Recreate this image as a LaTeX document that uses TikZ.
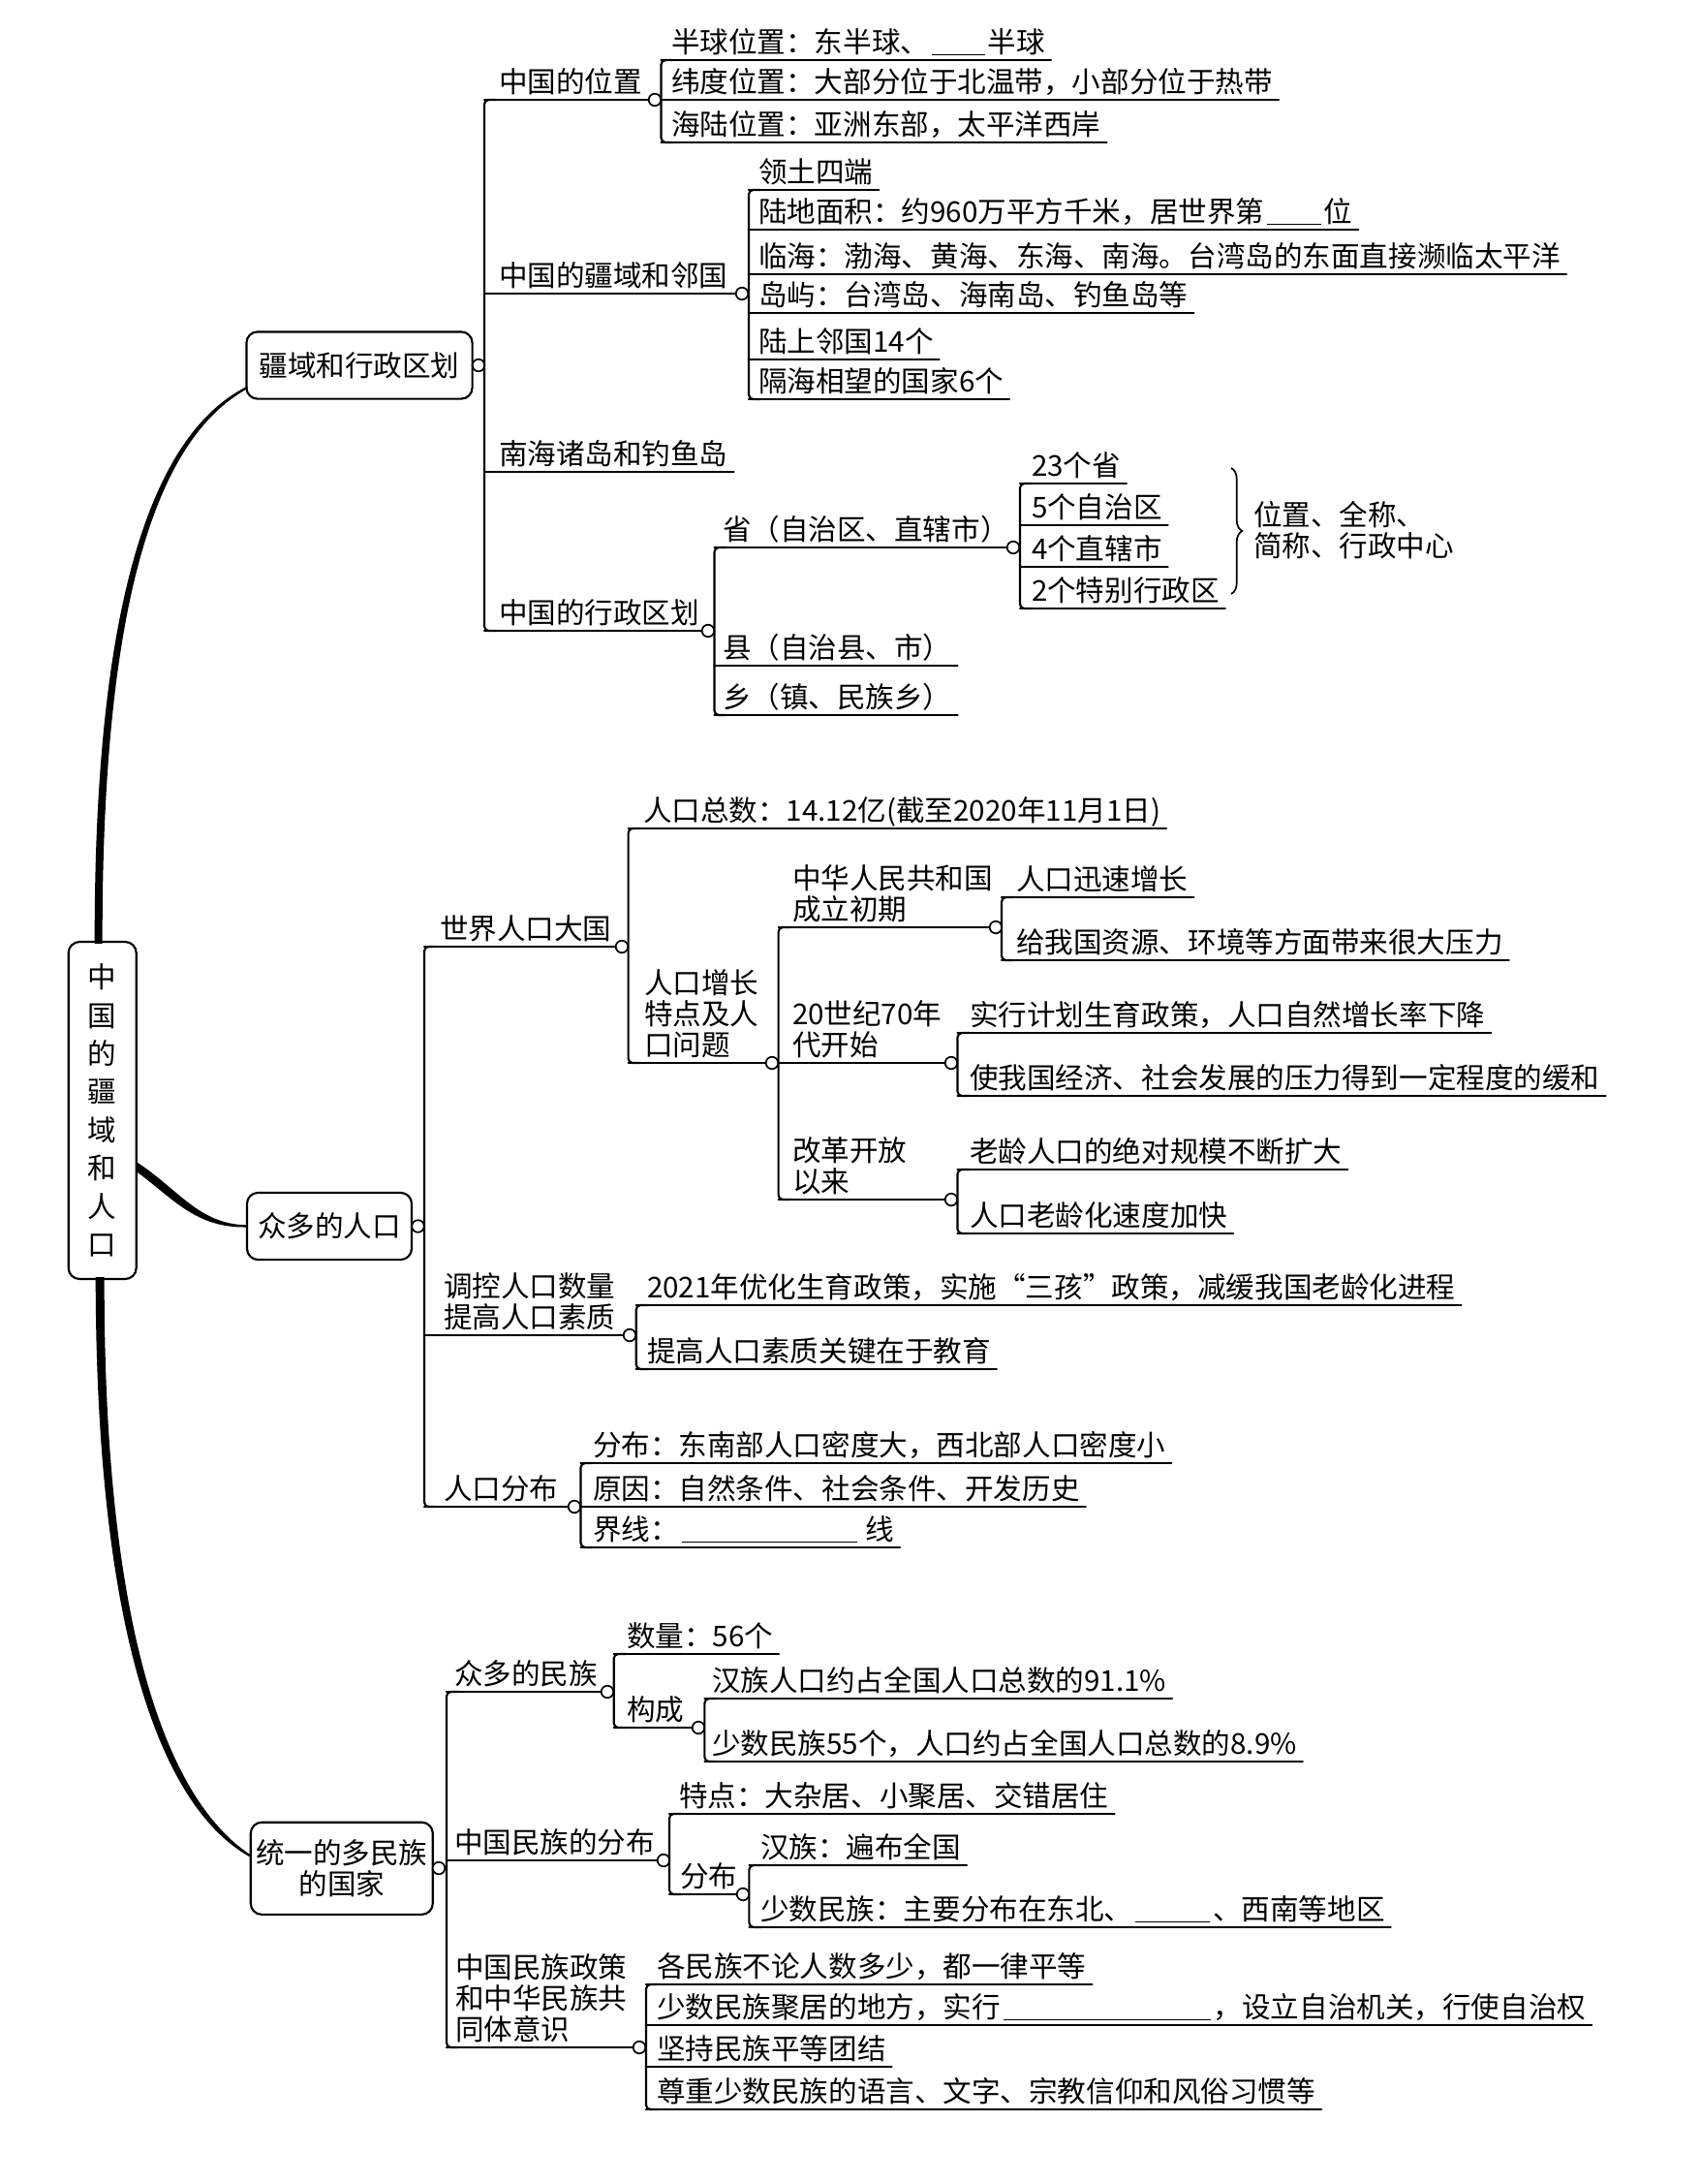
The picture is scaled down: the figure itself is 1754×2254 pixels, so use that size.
\documentclass[tikz,border=0pt]{standalone}
\usepackage{fontspec}
\setmainfont{Noto Sans CJK SC}
\usetikzlibrary{calc,decorations.pathreplacing}
\newcommand\mmblank[1]{\kern1pt\rule[-1.2pt]{#1}{0.6pt}\kern1pt}
\newcommand\mmleaf[5]{%
  \node[txt] (#1) at (#3,#4-8) {#5};
  \draw[ln] (#2,#4) -- ($(#1.south east)+(6,8)$);}
\newcommand\mmpar[6]{%
  \node[txt] (#1) at (#3,#4-8) {#6};
  \node[dot] (#1c) at (#5,#4) {};
  \draw[ln] (#2,#4) -- (#1c.west);}
\newcommand\mmbar[3]{%
  \draw[ln,rounded corners=1.6pt] (#1+12,#2) -- (#1,#2) -- (#1,#3) -- (#1+12,#3);}
\begin{document}
\begin{tikzpicture}[x=0.35pt,y=-0.35pt,
  font=\fontsize{10.35}{11.2}\selectfont,
  ln/.style={line width=0.75pt,line cap=round},
  txt/.style={anchor=south west,inner sep=0pt,outer sep=0pt,text depth=0pt,align=left},
  box/.style={draw,fill=white,line width=0.75pt,rounded corners=4pt,inner sep=0pt,align=center},
  dot/.style={circle,draw,line width=0.6pt,fill=white,inner sep=0pt,minimum size=4.4pt}]
\useasboundingbox[fill=white] (0,0) rectangle (1754,2254);

% root and main boxes
\node[box,minimum width=24.5pt,minimum height=121.8pt,font=\fontsize{10.35}{13.8}\selectfont] (R) at (105.7,1146) {中\\国\\的\\疆\\域\\和\\人\\口};
\node[box,minimum width=81.6pt,minimum height=24.2pt] (A) at (371,377) {疆域和行政区划};
\node[box,minimum width=59.5pt,minimum height=24.2pt] (B) at (340,1265.5) {众多的人口};
\node[box,minimum width=65.8pt,minimum height=33.3pt,font=\fontsize{10.35}{11.2}\selectfont] (C) at (352.8,1928.3) {统一的多民族\\的国家};

% tapered connectors
\fill ($(R.north)+(-8,3)$) .. controls (97,618) and (158,447) .. ($(A.south west)+(2,-14)$)
  -- ($(A.south west)+(2,-11.5)$) .. controls (161,453) and (105,622) .. ($(R.north)+(0,3)$) -- cycle;
\fill ($(R.east)+(-1,53)$) .. controls (185,1228) and (205,1263) .. ($(B.west)+(0,-1.2)$)
  -- ($(B.west)+(0,1)$) .. controls (202,1267) and (180,1238) .. ($(R.east)+(-1,63)$) -- cycle;
\fill ($(R.south)+(-7,-3)$) .. controls (99,1685) and (166,1866) .. ($(C.west)+(1,-11.5)$)
  -- ($(C.west)+(1,-14)$) .. controls (171,1857) and (107,1678) .. ($(R.south)+(2,-3)$) -- cycle;

% ===== A =====
\node[dot] (Ac) at (494,377) {};
\mmbar{500}{103}{651}
\mmpar{a1}{500}{515}{103}{676}{中国的位置}
\mmbar{682.5}{62}{147}
\mmleaf{a11}{682.5}{693}{62}{半球位置：东半球、\mmblank{19.3pt}半球}
\mmleaf{a12}{682.5}{693}{103}{纬度位置：大部分位于北温带，小部分位于热带}
\mmleaf{a13}{682.5}{693}{147}{海陆位置：亚洲东部，太平洋西岸}
\mmpar{a2}{500}{515}{303}{766}{中国的疆域和邻国}
\mmbar{773}{196}{412}
\mmleaf{a21}{773}{783}{196}{领土四端}
\mmleaf{a22}{773}{783}{237}{陆地面积：约960万平方千米，居世界第\mmblank{19.5pt}位}
\mmleaf{a23}{773}{783}{283}{临海：渤海、黄海、东海、南海。台湾岛的东面直接濒临太平洋}
\mmleaf{a24}{773}{783}{323}{岛屿：台湾岛、海南岛、钓鱼岛等}
\mmleaf{a25}{773}{783}{371}{陆上邻国14个}
\mmleaf{a26}{773}{783}{412}{隔海相望的国家6个}
\mmleaf{a3}{500}{515}{487}{南海诸岛和钓鱼岛}
\mmpar{a4}{500}{515}{651}{731}{中国的行政区划}
\mmbar{737.5}{565}{738}
\mmpar{a41}{737.5}{746}{565}{1046}{省（自治区、直辖市）}
\mmbar{1053}{499}{628}
\mmleaf{a411}{1053}{1065}{499}{23个省}
\mmleaf{a412}{1053}{1065}{542}{5个自治区}
\mmleaf{a413}{1053}{1065}{585}{4个直辖市}
\mmleaf{a414}{1053}{1065}{628}{2个特别行政区}
\draw[line width=0.6pt,decorate,decoration={brace,amplitude=4pt}] (1271,483) -- (1271,613);
\node[txt] (a41n) at (1294,574) {位置、全称、\\简称、行政中心};
\mmleaf{a42}{737.5}{746}{687}{县（自治县、市）}
\mmleaf{a43}{737.5}{746}{738}{乡（镇、民族乡）}

% ===== B =====
\node[dot] (Bc) at (431.5,1265.5) {};
\mmbar{438}{977}{1555}
\mmpar{b1}{438}{454}{977}{642}{世界人口大国}
\mmbar{648.6}{855}{1097}
\mmleaf{b11}{648.6}{664}{855}{人口总数：14.12亿(截至2020年11月1日)}
\mmpar{b12}{648.6}{665}{1097}{797}{人口增长\\特点及人\\口问题}
\mmbar{803.6}{957}{1238}
\mmpar{b121}{803.6}{818}{957}{1028}{中华人民共和国\\成立初期}
\mmbar{1034}{926}{991}
\mmleaf{b1211}{1034}{1049}{926}{人口迅速增长}
\mmleaf{b1212}{1034}{1049}{991}{给我国资源、环境等方面带来很大压力}
\mmpar{b122}{803.6}{818}{1097}{982}{20世纪70年\\代开始}
\mmbar{988.5}{1066}{1131}
\mmleaf{b1221}{988.5}{1001}{1066}{实行计划生育政策，人口自然增长率下降}
\mmleaf{b1222}{988.5}{1001}{1131}{使我国经济、社会发展的压力得到一定程度的缓和}
\mmpar{b123}{803.6}{818}{1238}{982}{改革开放\\以来}
\mmbar{988.5}{1207}{1273}
\mmleaf{b1231}{988.5}{1001}{1207}{老龄人口的绝对规模不断扩大}
\mmleaf{b1232}{988.5}{1001}{1273}{人口老龄化速度加快}
\mmpar{b2}{438}{458}{1378}{650}{调控人口数量\\提高人口素质}
\mmbar{656.7}{1347}{1413}
\mmleaf{b21}{656.7}{668}{1347}{2021年优化生育政策，实施“三孩”政策，减缓我国老龄化进程}
\mmleaf{b22}{656.7}{668}{1413}{提高人口素质关键在于教育}
\mmpar{b3}{438}{458}{1555}{593}{人口分布}
\mmbar{599.5}{1510}{1597}
\mmleaf{b31}{599.5}{612}{1510}{分布：东南部人口密度大，西北部人口密度小}
\mmleaf{b32}{599.5}{612}{1555}{原因：自然条件、社会条件、开发历史}
\mmleaf{b33}{599.5}{612}{1597}{界线：\mmblank{63.5pt}\kern2pt 线}

% ===== C =====
\node[dot] (Cc) at (453,1928) {};
\mmbar{461}{1746}{2113}
\mmpar{c1}{461}{469}{1746}{627}{众多的民族}
\mmbar{633.7}{1707}{1783}
\mmleaf{c11}{633.7}{647}{1707}{数量：56个}
\mmpar{c12}{633.7}{647}{1783}{721}{构成}
\mmbar{727.4}{1753}{1818}
\mmleaf{c121}{727.4}{735}{1753}{汉族人口约占全国人口总数的91.1\%}
\mmleaf{c122}{727.4}{735}{1818}{少数民族55个，人口约占全国人口总数的8.9\%}
\mmpar{c2}{461}{469}{1920}{685}{中国民族的分布}
\mmbar{691}{1872}{1955}
\mmleaf{c21}{691}{701}{1872}{特点：大杂居、小聚居、交错居住}
\mmpar{c22}{691}{702}{1955}{767}{分布}
\mmbar{773.4}{1925}{1989}
\mmleaf{c221}{773.4}{785}{1925}{汉族：遍布全国}
\mmleaf{c222}{773.4}{785}{1989}{少数民族：主要分布在东北、\mmblank{27pt}、西南等地区}
\mmpar{c3}{461}{470}{2113}{660}{中国民族政策\\和中华民族共\\同体意识}
\mmbar{667}{2048}{2177}
\mmleaf{c31}{667}{678}{2048}{各民族不论人数多少，都一律平等}
\mmleaf{c32}{667}{678}{2090}{少数民族聚居的地方，实行\mmblank{75pt}，设立自治机关，行使自治权}
\mmleaf{c33}{667}{678}{2133}{坚持民族平等团结}
\mmleaf{c34}{667}{678}{2177}{尊重少数民族的语言、文字、宗教信仰和风俗习惯等}
\end{tikzpicture}
\end{document}
